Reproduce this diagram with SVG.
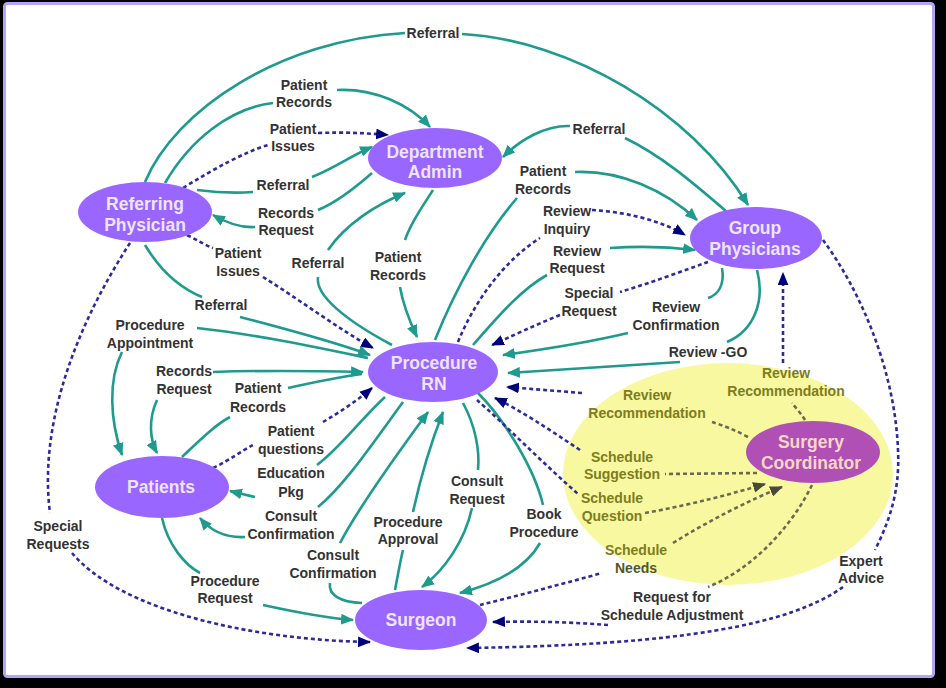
<svg xmlns="http://www.w3.org/2000/svg" width="946" height="688" viewBox="0 0 946 688">
<defs>
<style>
.t{fill:none;stroke:#1f9a8e;stroke-width:2.6}
.d{fill:none;stroke:#2b2b9b;stroke-width:2.6;stroke-dasharray:4 3}
.o{fill:none;stroke:#6b6b50;stroke-width:2.6;stroke-dasharray:4 3}
.l{font-family:"Liberation Sans",Arial,sans-serif;font-weight:bold;font-size:14px;fill:#333;text-anchor:middle}
.ly{font-family:"Liberation Sans",Arial,sans-serif;font-weight:bold;font-size:14px;fill:#7d7d1e;text-anchor:middle}
.n{fill:#9966ff}
.nt{font-family:"Liberation Sans",Arial,sans-serif;font-weight:bold;font-size:17.5px;fill:#eee4ff;text-anchor:middle}
</style>
<marker id="at" viewBox="0 0 12 10" refX="11" refY="5" markerWidth="13" markerHeight="11" markerUnits="userSpaceOnUse" orient="auto"><path d="M0,0 L12,5 L0,10 z" fill="#1f9a8e"/></marker>
<marker id="an" viewBox="0 0 12 10" refX="11" refY="5" markerWidth="13" markerHeight="11" markerUnits="userSpaceOnUse" orient="auto"><path d="M0,0 L12,5 L0,10 z" fill="#00007a"/></marker>
<marker id="ag" viewBox="0 0 12 10" refX="11" refY="5" markerWidth="13" markerHeight="11" markerUnits="userSpaceOnUse" orient="auto"><path d="M0,0 L12,5 L0,10 z" fill="#4a4a3a"/></marker>
</defs>
<rect x="0" y="0" width="946" height="688" fill="#000"/>
<rect x="4.5" y="3.5" width="929" height="673" rx="3" fill="#fff" stroke="#b4a4f2" stroke-width="3"/>
<ellipse id="yellow-zone" cx="728" cy="474" rx="165" ry="111" fill="#f8f8a0"/>

<g id="connectors">
<!-- Referring Physician -> Group Physicians : Referral -->
<path class="t" d="M145,182 C175,110 280,40 405,33"/>
<path class="t" d="M462,34 C570,40 690,110 748,205" marker-end="url(#at)"/>
<!-- RP -> DA Patient Records -->
<path class="t" d="M165,183 C190,140 230,108 273,103"/>
<path class="t" d="M337,90 C375,88 410,105 430,127" marker-end="url(#at)"/>
<!-- RP -> DA Patient Issues -->
<path class="d" d="M183,188 C215,168 245,152 268,145"/>
<path class="d" d="M318,133 C345,132 365,133 388,135" marker-end="url(#an)"/>
<!-- RP -> DA Referral -->
<path class="t" d="M197,190 C220,193 240,193 253,192"/>
<path class="t" d="M312,177 C335,168 352,155 372,147" marker-end="url(#at)"/>
<!-- DA -> RP Records Request -->
<path class="t" d="M372,173 C355,188 335,203 318,210"/>
<path class="t" d="M255,227 C240,228 225,222 213,215" marker-end="url(#at)"/>
<!-- RP -> RN Patient Issues -->
<path class="d" d="M187,235 C197,240 205,245 213,248"/>
<path class="d" d="M263,277 C300,300 340,330 373,348" marker-end="url(#an)"/>
<!-- RP -> RN Referral -->
<path class="t" d="M145,245 C160,270 180,288 202,297"/>
<path class="t" d="M240,317 C290,330 335,342 370,355" marker-end="url(#at)"/>
<!-- RP -> Surgeon Special Requests -->
<path class="d" d="M130,243 C80,320 38,420 50,513"/>
<path class="d" d="M72,553 C120,610 250,640 370,642" marker-end="url(#an)"/>
<!-- Procedure Appointment -->
<path class="t" d="M197,328 C260,335 320,348 368,358"/>
<path class="t" d="M122,352 C108,380 110,420 122,455" marker-end="url(#at)"/>
<!-- Records Request (RN/Patients) -->
<path class="t" d="M213,372 C270,370 320,371 363,372" marker-end="url(#at)"/>
<path class="t" d="M157,400 C148,420 150,440 157,453" marker-end="url(#at)"/>
<!-- Patients -> RN Patient Records -->
<path class="t" d="M182,457 C200,440 215,425 230,417"/>
<path class="t" d="M288,388 C315,382 340,377 362,374"/>
<!-- Patients -> RN Patient questions -->
<path class="d" d="M213,468 C230,460 243,450 253,445"/>
<path class="d" d="M323,422 C340,412 358,400 372,388" marker-end="url(#an)"/>
<!-- RN -> Patients Education Pkg -->
<path class="t" d="M385,397 C360,420 340,448 317,465"/>
<path class="t" d="M255,497 C246,495 238,493 230,491" marker-end="url(#at)"/>
<!-- RN -> Patients Consult Confirmation -->
<path class="t" d="M403,402 C375,440 345,485 318,507"/>
<path class="t" d="M245,537 C225,538 210,530 200,518" marker-end="url(#at)"/>
<!-- Surgeon -> RN Consult Confirmation -->
<path class="t" d="M362,603 C340,602 328,595 330,583"/>
<path class="t" d="M340,543 C360,505 400,450 428,412" marker-end="url(#at)"/>
<!-- Surgeon -> RN Procedure Approval -->
<path class="t" d="M395,590 C398,575 400,562 403,550"/>
<path class="t" d="M413,512 C420,480 432,440 443,412" marker-end="url(#at)"/>
<!-- RN -> Surgeon Consult Request -->
<path class="t" d="M463,403 C475,425 480,450 478,470"/>
<path class="t" d="M472,508 C465,540 445,570 422,587" marker-end="url(#at)"/>
<!-- RN -> Surgeon Book Procedure -->
<path class="t" d="M478,393 C505,420 535,470 543,505"/>
<path class="t" d="M540,543 C525,570 490,585 460,593" marker-end="url(#at)"/>
<!-- Patients -> Surgeon Procedure Request -->
<path class="t" d="M162,518 C168,545 185,565 200,573"/>
<path class="t" d="M263,605 C295,612 325,618 353,620" marker-end="url(#at)"/>
<!-- RN -> DA Referral -->
<path class="t" d="M392,345 C345,320 315,295 318,277"/>
<path class="t" d="M328,250 C345,225 375,205 405,193" marker-end="url(#at)"/>
<!-- DA -> RN Patient Records -->
<path class="t" d="M433,190 C420,210 410,225 405,240"/>
<path class="t" d="M400,287 C403,305 410,322 417,337" marker-end="url(#at)"/>
<!-- GP -> DA Referral -->
<path class="t" d="M727,212 C690,180 660,155 625,138"/>
<path class="t" d="M570,126 C545,125 520,140 503,157" marker-end="url(#at)"/>
<!-- RN -> GP Patient Records -->
<path class="t" d="M435,340 C455,290 485,235 517,198"/>
<path class="t" d="M575,172 C620,170 665,190 697,220" marker-end="url(#at)"/>
<!-- RN -> GP Review Inquiry -->
<path class="d" d="M458,342 C475,300 505,260 540,238"/>
<path class="d" d="M592,210 C625,212 660,220 685,235" marker-end="url(#an)"/>
<!-- RN -> GP Review Request -->
<path class="t" d="M473,345 C495,320 520,290 547,275"/>
<path class="t" d="M610,248 C640,246 670,247 695,250" marker-end="url(#at)"/>
<!-- GP -> RN Special Request -->
<path class="d" d="M708,262 C680,272 650,283 620,292"/>
<path class="d" d="M560,315 C535,325 510,337 492,345" marker-end="url(#an)"/>
<!-- GP -> RN Review Confirmation -->
<path class="t" d="M722,268 C725,285 718,295 708,298"/>
<path class="t" d="M628,333 C590,342 540,350 503,355" marker-end="url(#at)"/>
<!-- GP -> RN Review -GO -->
<path class="t" d="M757,270 C765,300 755,330 727,342"/>
<path class="t" d="M680,362 C620,366 560,370 508,373" marker-end="url(#at)"/>
<!-- SC -> GP Review Recommendation -->
<path class="o" d="M805,420 C800,412 795,407 792,403"/>
<path class="d" d="M783,363 L783,273" marker-end="url(#an)"/>
<!-- SC -> RN Review Recommendation -->
<path class="o" d="M748,437 C735,430 722,425 712,422"/>
<path class="d" d="M582,393 L507,387" marker-end="url(#an)"/>
<!-- SC -> RN Schedule Suggestion -->
<path class="o" d="M757,473 L665,474"/>
<path class="d" d="M580,450 C550,430 520,410 495,398" marker-end="url(#an)"/>
<!-- RN -> SC Schedule Question -->
<path class="d" d="M477,400 C500,420 545,465 578,494"/>
<path class="o" d="M645,513 C690,505 735,493 765,484" marker-end="url(#ag)"/>
<!-- Surgeon -> SC Schedule Needs -->
<path class="d" d="M480,605 C520,595 570,582 602,573"/>
<path class="o" d="M673,543 C710,520 750,500 782,487" marker-end="url(#ag)"/>
<!-- SC -> Surgeon Request for Schedule Adjustment -->
<path class="o" d="M812,485 C790,530 750,570 708,587"/>
<path class="d" d="M608,625 C570,622 530,621 493,622" marker-end="url(#an)"/>
<!-- GP -> Surgeon Expert Advice -->
<path class="d" d="M823,240 C860,290 895,370 898,450 C900,490 890,520 875,550"/>
<path class="d" d="M843,587 C790,625 680,645 467,648" marker-end="url(#an)"/>

<g id="labels">
<text class="l" x="433" y="38">Referral</text>
<text class="l" x="304" y="90">Patient<tspan x="304" dy="17">Records</tspan></text>
<text class="l" x="293" y="134">Patient<tspan x="293" dy="17">Issues</tspan></text>
<text class="l" x="283" y="190">Referral</text>
<text class="l" x="286" y="218">Records<tspan x="286" dy="17">Request</tspan></text>
<text class="l" x="599" y="134">Referral</text>
<text class="l" x="543" y="176">Patient<tspan x="543" dy="18">Records</tspan></text>
<text class="l" x="567" y="216">Review<tspan x="567" dy="18">Inquiry</tspan></text>
<text class="l" x="238" y="258">Patient<tspan x="238" dy="18">Issues</tspan></text>
<text class="l" x="318" y="268">Referral</text>
<text class="l" x="398" y="262">Patient<tspan x="398" dy="18">Records</tspan></text>
<text class="l" x="221" y="310">Referral</text>
<text class="l" x="150" y="330">Procedure<tspan x="150" dy="18">Appointment</tspan></text>
<text class="l" x="184" y="376">Records<tspan x="184" dy="18">Request</tspan></text>
<text class="l" x="258" y="393">Patient<tspan x="258" dy="19">Records</tspan></text>
<text class="l" x="291" y="436">Patient<tspan x="291" dy="18">questions</tspan></text>
<text class="l" x="577" y="256">Review<tspan x="577" dy="17">Request</tspan></text>
<text class="l" x="589" y="298">Special<tspan x="589" dy="18">Request</tspan></text>
<text class="l" x="676" y="312">Review<tspan x="676" dy="18">Confirmation</tspan></text>
<text class="l" x="708" y="357">Review -GO</text>
<text class="ly" x="786" y="378">Review<tspan x="786" dy="18">Recommendation</tspan></text>
<text class="ly" x="647" y="400">Review<tspan x="647" dy="18">Recommendation</tspan></text>
<text class="ly" x="622" y="462">Schedule<tspan x="622" dy="17">Suggestion</tspan></text>
<text class="ly" x="612" y="503">Schedule<tspan x="612" dy="18">Question</tspan></text>
<text class="ly" x="636" y="555">Schedule<tspan x="636" dy="18" fill="#55552a">Needs</tspan></text>
<text class="l" x="544" y="519">Book<tspan x="544" dy="18">Procedure</tspan></text>
<text class="l" x="477" y="486">Consult<tspan x="477" dy="18">Request</tspan></text>
<text class="l" x="408" y="527">Procedure<tspan x="408" dy="17">Approval</tspan></text>
<text class="l" x="333" y="560">Consult<tspan x="333" dy="18">Confirmation</tspan></text>
<text class="l" x="291" y="521">Consult<tspan x="291" dy="18">Confirmation</tspan></text>
<text class="l" x="291" y="478">Education<tspan x="291" dy="19">Pkg</tspan></text>
<text class="l" x="58" y="531">Special<tspan x="58" dy="18">Requests</tspan></text>
<text class="l" x="225" y="586">Procedure<tspan x="225" dy="17">Request</tspan></text>
<text class="l" x="672" y="602">Request for<tspan x="672" dy="18">Schedule Adjustment</tspan></text>
<text class="l" x="861" y="566">Expert<tspan x="861" dy="17">Advice</tspan></text>
</g>
</g>

<g id="referring-physician"><ellipse class="n" cx="145" cy="212" rx="67" ry="30"/><text class="nt" x="145" y="210">Referring<tspan x="145" dy="21">Physician</tspan></text></g>
<g id="department-admin"><ellipse class="n" cx="435" cy="158" rx="67" ry="30"/><text class="nt" x="435" y="158">Department<tspan x="435" dy="20">Admin</tspan></text></g>
<g id="group-physicians"><ellipse class="n" cx="756" cy="238" rx="66" ry="31"/><text class="nt" x="755" y="234">Group<tspan x="755" dy="21">Physicians</tspan></text></g>
<g id="procedure-rn"><ellipse class="n" cx="433" cy="372" rx="65" ry="30"/><text class="nt" x="434" y="369">Procedure<tspan x="434" dy="21">RN</tspan></text></g>
<g id="patients"><ellipse class="n" cx="162" cy="487" rx="67" ry="31"/><text class="nt" x="161" y="493">Patients</text></g>
<g id="surgeon"><ellipse class="n" cx="421" cy="620" rx="66" ry="30"/><text class="nt" x="421" y="626">Surgeon</text></g>
<g id="surgery-coordinator"><ellipse cx="813" cy="452" rx="67" ry="31" fill="#b04fb4"/><text class="nt" x="811" y="448" style="fill:#f8d6c6">Surgery<tspan x="811" dy="21">Coordinator</tspan></text></g>
</svg>
